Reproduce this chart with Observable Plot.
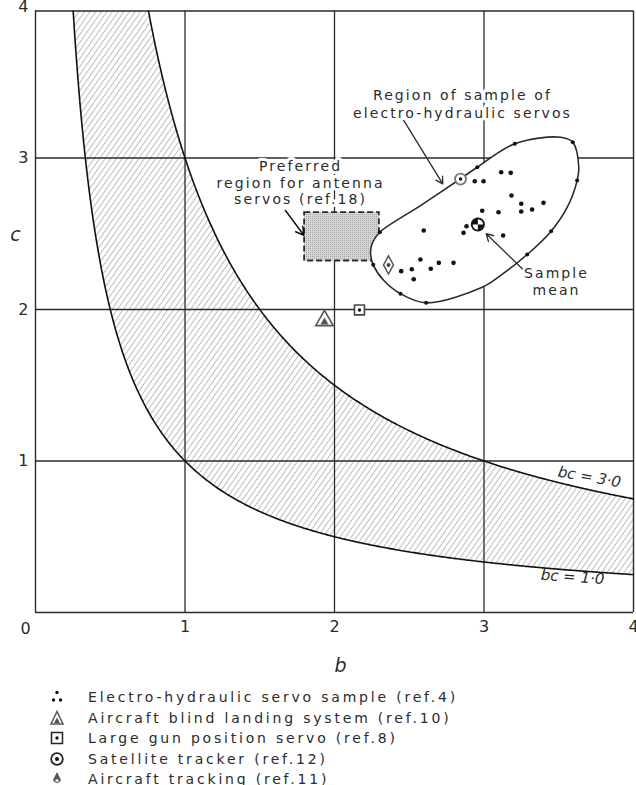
<!DOCTYPE html>
<html>
<head>
<meta charset="utf-8">
<script src="https://cdn.jsdelivr.net/npm/d3@7"></script>
<script src="https://cdn.jsdelivr.net/npm/@observablehq/plot@0.6"></script>
<style>
  body { margin: 0; background: white; }
  #wrap { position: relative; width: 636px; height: 785px; background: white; overflow: hidden; }
  #legend { position: absolute; left: 48px; top: 687px; font-family: "DejaVu Sans"; font-size: 14px;
            letter-spacing: 2.8px; color: #2b2b2b; }
  #legend .row { height: 20.5px; display: flex; align-items: center; white-space: nowrap; }
  #legend svg { width: 18px; height: 16px; margin-right: 22px; flex: none; }
</style>
</head>
<body>
<div id="wrap"></div>
<script>
// Constant-product curves bounding the shaded band
const bcLow = 1.0;
const bcHigh = 3.0;
const cTop = 3.97;            // upper edge of the frame (c)

const gridB = [1, 2, 3];
const gridC = [1, 2, 3];
const tickB = [1, 2, 3, 4];
const tickC = [1, 2, 3, 4];

// Outline of the electro-hydraulic servo sample region (b, c), in drawing order
const regionB = [2.241, 2.252, 2.303, 2.575, 2.843, 2.955, 3.206, 3.512, 3.594, 3.634,
                 3.623, 3.557, 3.449, 3.289, 3.110, 2.988, 2.613, 2.441, 2.330, 2.259];
const regionC = [2.368, 2.436, 2.510, 2.686, 2.863, 2.939, 3.094, 3.137, 3.104, 2.939,
                 2.851, 2.675, 2.517, 2.363, 2.224, 2.147, 2.044, 2.104, 2.191, 2.295];
// Servos lying on the region outline
const edgeB = [2.303, 2.955, 3.206, 3.594, 3.623, 3.449, 3.289, 2.613, 2.441, 2.259];
const edgeC = [2.510, 2.939, 3.094, 3.104, 2.851, 2.517, 2.363, 2.044, 2.104, 2.295];
// Servos inside the region
const sampleB = [3.115, 3.179, 2.938, 2.997, 3.184, 3.249, 3.398, 3.249, 3.322, 2.988, 3.097,
                 2.597, 2.883, 2.863, 3.128, 2.575, 2.698, 2.796, 2.644, 2.446, 2.517, 2.530];
const sampleC = [2.906, 2.902, 2.847, 2.847, 2.752, 2.698, 2.704, 2.647, 2.660, 2.652, 2.642,
                 2.521, 2.550, 2.506, 2.488, 2.330, 2.308, 2.308, 2.269, 2.253, 2.266, 2.200];
const meanBC = [2.959, 2.561];

// Individual systems
const blindLanding = [1.933, 1.927];
const gunServo = [2.167, 1.997];
const satelliteTracker = [2.843, 2.861];
const aircraftTracking = [2.361, 2.294];

// Preferred region for antenna servos
const antennaB = [1.8, 2.3];
const antennaC = [2.32, 2.64];

const annotationLines = ["Preferred", "region for antenna", "servos (ref.18)",
                         "Region of sample of", "electro-hydraulic servos", "Sample", "mean"];
const annotationB = [1.773, 1.773, 1.773, 2.856, 2.856, 3.485, 3.485];
const annotationC = [2.944, 2.834, 2.729, 3.413, 3.294, 2.236, 2.125];

const legendLabels = [
  "Electro-hydraulic servo sample (ref.4)",
  "Aircraft blind landing system (ref.10)",
  "Large gun position servo (ref.8)",
  "Satellite tracker (ref.12)",
  "Aircraft tracking (ref.11)"
];

// ---- derived tables ----
const bSteps = d3.range(bcLow / cTop, 4, 0.01).concat([4]);
const band = bSteps.map(b => ({b, lo: bcLow / b, hi: Math.min(bcHigh / b, cTop)}));
const upperCurve = [bcHigh / cTop, ...bSteps.filter(b => b > bcHigh / cTop)].map(b => ({b, c: bcHigh / b}));
const region = regionB.map((b, i) => ({b, c: regionC[i]}));
const edge = edgeB.map((b, i) => ({b, c: edgeC[i]}));
const samples = sampleB.map((b, i) => ({b, c: sampleC[i]}));
const annotations = annotationLines.map((t, i) => ({t, b: annotationB[i], c: annotationC[i]}));

// Custom symbols
const rOf = size => Math.sqrt(size / Math.PI);
const quadrant = (a0) => ({draw(ctx, size) {
  const r = rOf(size);
  ctx.moveTo(0, 0); ctx.arc(0, 0, r, a0, a0 + Math.PI / 2); ctx.closePath();
}});
const tallDiamond = {draw(ctx, size) {
  const r = rOf(size);
  ctx.moveTo(0, -1.65 * r); ctx.lineTo(0.9 * r, 0); ctx.lineTo(0, 1.65 * r); ctx.lineTo(-0.9 * r, 0); ctx.closePath();
}};

const ink = "#2b2b2b";
const at = p => ({x: () => p[0], y: () => p[1]});

const chart = Plot.plot({
  width: 636,
  height: 662,
  marginLeft: 35,
  marginRight: 3,
  marginTop: 6,
  marginBottom: 50,
  x: {domain: [0, 4]},
  y: {domain: [0, 4]},
  style: {fontFamily: "DejaVu Sans", color: ink, background: "white", overflow: "visible"},
  marks: [
    // hatched band between bc = 1 and bc = 3
    Plot.areaY(band, {x: "b", y1: "lo", y2: "hi", fill: "url(#hatch)"}),
    // grid and frame
    Plot.ruleX(gridB, {y1: 0, y2: cTop, stroke: ink, strokeWidth: 1.3}),
    Plot.ruleY(gridC, {x1: 0, x2: 4, stroke: ink, strokeWidth: 1.3}),
    Plot.ruleX([0, 4], {y1: 0, y2: cTop, stroke: ink, strokeWidth: 1.4}),
    Plot.ruleY([0, cTop], {x1: 0, x2: 4, stroke: ink, strokeWidth: 1.4}),
    // band outlines
    Plot.line(band, {x: "b", y: "lo", stroke: "#111", strokeWidth: 1.6}),
    Plot.line(upperCurve, {x: "b", y: "c", stroke: "#111", strokeWidth: 1.6}),
    Plot.text(["bc = 3·0"], {x: 3.705, y: 0.893, rotate: 10, fontSize: 15, fontStyle: "italic", fill: ink,
      stroke: "white", strokeWidth: 3}),
    Plot.text(["bc = 1·0"], {x: 3.592, y: 0.233, rotate: 4, fontSize: 15, fontStyle: "italic", fill: ink}),
    // callout text (white halo hides the grid behind the lettering)
    Plot.text(annotations, {x: "b", y: "c", text: "t", fontSize: 14, fill: ink, stroke: "white", strokeWidth: 6}),
    // preferred antenna region
    Plot.rect([0], {x1: antennaB[0], x2: antennaB[1], y1: antennaC[0], y2: antennaC[1],
      fill: "url(#stipple)", stroke: ink, strokeWidth: 1.8, strokeDasharray: "6,3"}),
    // sample region outline
    Plot.line(region, {x: "b", y: "c", curve: "catmull-rom-closed", fill: "white", stroke: ink, strokeWidth: 1.6}),
    Plot.dot(edge, {x: "b", y: "c", r: 2, fill: "#111"}),
    Plot.dot(samples, {x: "b", y: "c", r: 2.3, fill: "#111"}),
    // sample mean
    Plot.dot([meanBC], {...at(meanBC), r: 7, fill: "#111"}),
    Plot.dot([meanBC], {...at(meanBC), r: 5.2, fill: "white", symbol: quadrant(-Math.PI / 2)}),
    Plot.dot([meanBC], {...at(meanBC), r: 5.2, fill: "white", symbol: quadrant(Math.PI / 2)}),
    // individual systems
    Plot.dot([satelliteTracker], {...at(satelliteTracker), r: 5.5, fill: "white", stroke: "#777", strokeWidth: 1.8}),
    Plot.dot([satelliteTracker], {...at(satelliteTracker), r: 1.7, fill: "#111"}),
    Plot.dot([aircraftTracking], {...at(aircraftTracking), r: 5.5, symbol: tallDiamond, fill: "white", stroke: "#555", strokeWidth: 1.5}),
    Plot.dot([aircraftTracking], {...at(aircraftTracking), r: 2, fill: "#444"}),
    Plot.dot([gunServo], {...at(gunServo), r: 5.6, symbol: "square", fill: "white", stroke: "#444", strokeWidth: 1.6}),
    Plot.dot([gunServo], {...at(gunServo), r: 1.7, fill: "#111"}),
    Plot.dot([blindLanding], {...at(blindLanding), r: 6.5, symbol: "triangle", fill: "white", stroke: "#555", strokeWidth: 1.6}),
    Plot.dot([blindLanding], {...at(blindLanding), r: 3, dy: 1.5, symbol: "triangle", fill: "#555"}),
    // callout arrows
    Plot.arrow([0], {x1: 2.463, y1: 3.248, x2: 2.724, y2: 2.829, stroke: ink, strokeWidth: 1.3, headLength: 9}),
    Plot.arrow([0], {x1: 1.672, y1: 2.653, x2: 1.795, y2: 2.49, stroke: "#111", strokeWidth: 1.5, headLength: 9}),
    Plot.arrow([0], {x1: 3.256, y1: 2.269, x2: 3.015, y2: 2.5, stroke: ink, strokeWidth: 1.3, headLength: 9}),
    // axes
    Plot.axisX(tickB, {tickSize: 0, tickPadding: 8, fontSize: 16, label: null, tickFormat: d => String(d)}),
    Plot.text([0], {x: 0, y: 0, dx: -10, dy: 16, fontSize: 16, fill: ink}),
    Plot.axisY(tickC, {tickSize: 0, tickPadding: 7, fontSize: 16, label: null, tickFormat: d => String(d)}),
    Plot.text(["b"], {x: 2.04, y: 0, dy: 53, fontSize: 19, fontStyle: "italic", fill: ink}),
    Plot.text(["c"], {x: 0, y: 2.49, dx: -20, fontSize: 19, fontStyle: "italic", fill: ink})
  ]
});

// Wide lettering for the callouts
chart.querySelectorAll("text").forEach(t => {
  if (annotationLines.includes(t.textContent)) t.style.letterSpacing = "2.1px";
});

// Fill patterns: diagonal hatching for the band, stipple for the antenna region
const ns = "http://www.w3.org/2000/svg";
const defs = document.createElementNS(ns, "defs");
defs.innerHTML = `
  <pattern id="hatch" patternUnits="userSpaceOnUse" width="4.6" height="4.6" patternTransform="rotate(35)">
    <line x1="2.3" y1="-1" x2="2.3" y2="5.6" stroke="#aaaaaa" stroke-width="0.75"/>
  </pattern>
  <pattern id="stipple" patternUnits="userSpaceOnUse" width="2" height="2">
    <rect width="2" height="2" fill="#d6d6d6"/>
    <rect width="1" height="1" fill="#a9a9a9"/>
  </pattern>`;
chart.prepend(defs);

const wrap = document.getElementById("wrap");
wrap.appendChild(chart);

// Legend with the same symbols as the chart
const icons = [
  `<circle cx="9" cy="3.5" r="1.7" fill="#111"/><circle cx="5.5" cy="11" r="1.7" fill="#111"/><circle cx="12.5" cy="11" r="1.7" fill="#111"/>`,
  `<path d="M9,1.5 L15,14 L3,14 Z" fill="none" stroke="#555" stroke-width="1.5"/><path d="M9,7.5 L12,13 L6,13 Z" fill="#555"/>`,
  `<rect x="3.5" y="2.5" width="11" height="11" fill="none" stroke="#222" stroke-width="1.5"/><circle cx="9" cy="8" r="1.7" fill="#111"/>`,
  `<circle cx="9" cy="8" r="5.8" fill="none" stroke="#222" stroke-width="1.8"/><circle cx="9" cy="8" r="2" fill="#111"/>`,
  `<path d="M9,1 L13,9 Q9,15.5 5,9 Z" fill="#555"/><circle cx="9" cy="9.5" r="1.6" fill="white"/>`
];
const legend = document.createElement("div");
legend.id = "legend";
legendLabels.forEach((label, i) => {
  const row = document.createElement("div");
  row.className = "row";
  row.innerHTML = `<svg viewBox="0 0 18 16">${icons[i]}</svg><span>${label}</span>`;
  legend.appendChild(row);
});
wrap.appendChild(legend);
</script>
</body>
</html>
